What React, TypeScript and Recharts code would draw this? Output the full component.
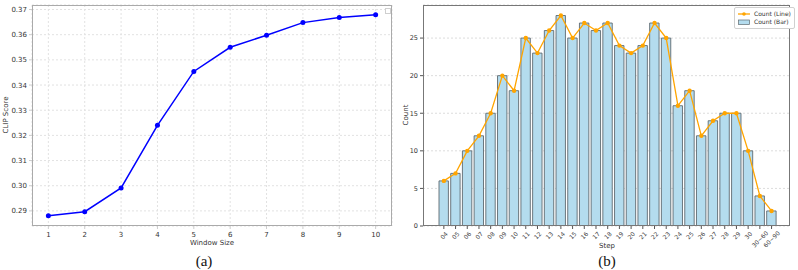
import React from "react";
import {
  LineChart,
  Line,
  XAxis,
  YAxis,
  CartesianGrid,
  ComposedChart,
  Bar,
} from "recharts";

// ---- Panel (a) data ----
const windowSizes = [1, 2, 3, 4, 5, 6, 7, 8, 9, 10];
const clipScores = [0.2881, 0.2897, 0.2991, 0.324, 0.3454, 0.355, 0.3598, 0.3648, 0.3668, 0.3679];
const clipTicks = [0.29, 0.3, 0.31, 0.32, 0.33, 0.34, 0.35, 0.36, 0.37];

// ---- Panel (b) data ----
const steps = [
  "04", "05", "06", "07", "08", "09", "10", "11", "12", "13", "14", "15", "16", "17",
  "18", "19", "20", "21", "22", "23", "24", "25", "26", "27", "28", "29", "30", "30~60", "60~90",
];
const counts = [6, 7, 10, 12, 15, 20, 18, 25, 23, 26, 28, 25, 27, 26, 27, 24, 23, 24, 27, 25, 16, 18, 12, 14, 15, 15, 10, 4, 2];
const countTicks = [0, 5, 10, 15, 20, 25];

const dataA = windowSizes.map((w, i) => ({ w, score: clipScores[i] }));
const dataB = steps.map((s, i) => ({ step: s, count: counts[i] }));

const SANS = "'DejaVu Sans', sans-serif";
const SERIF = "'Liberation Serif', 'Times New Roman', serif";

const StepTick = (props: any) => {
  const { x, y, payload } = props;
  const label = String(payload.value);
  const fs = 6;
  const w = label.length * fs * 0.6;
  const half = ((w + fs) * 0.707) / 2;
  const cy = y + half - 0.5;
  return (
    <text
      x={x}
      y={cy}
      transform={`rotate(-45, ${x}, ${cy})`}
      textAnchor="middle"
      dominantBaseline="central"
      fontSize={fs}
      fontFamily={SANS}
      fill="#444"
    >
      {label}
    </text>
  );
};

const LegendB = () => (
  <div
    style={{
      border: "1px solid #d0d0d0",
      borderRadius: 2,
      background: "white",
      padding: "2px 3px",
      fontFamily: SANS,
      fontSize: 6,
      color: "#333",
      lineHeight: "8px",
    }}
  >
    <div style={{ display: "flex", alignItems: "center" }}>
      <svg width={12} height={8}>
        <line x1={0} y1={4} x2={12} y2={4} stroke="#FFA500" strokeWidth={1.3} />
        <circle cx={6} cy={4} r={1.8} fill="#FFA500" />
      </svg>
      <span style={{ marginLeft: 4 }}>Count (Line)</span>
    </div>
    <div style={{ display: "flex", alignItems: "center" }}>
      <svg width={12} height={8}>
        <rect x={0.5} y={2} width={11} height={4.5} fill="#B4DCEE" stroke="#5f6a70" strokeWidth={0.7} />
      </svg>
      <span style={{ marginLeft: 4 }}>Count (Bar)</span>
    </div>
  </div>
);

const abs = (l: number, t: number): React.CSSProperties => ({ position: "absolute", left: l, top: t });

export default function App() {
  return (
    <div style={{ position: "absolute", left: 0, top: 0, width: 798, height: 270, background: "white", overflow: "hidden" }}>
      {/* Panel (a) */}
      <div style={abs(0, 0)}>
        <LineChart width={400} height={270} data={dataA} margin={{ top: 5, right: 8, bottom: 0, left: 2 }}>
          <CartesianGrid stroke="#e2e2e2" strokeDasharray="2 2" />
          <XAxis
            dataKey="w"
            type="number"
            domain={[0.55, 10.45]}
            ticks={windowSizes}
            height={44}
            axisLine={false}
            tickLine={{ stroke: "#cccccc" }}
            tickSize={3}
            tickMargin={3}
            tick={{ fontSize: 7, fontFamily: SANS, fill: "#333" }}
            allowDataOverflow
          />
          <YAxis
            type="number"
            domain={[0.284, 0.3718]}
            ticks={clipTicks}
            width={30}
            axisLine={false}
            tickLine={{ stroke: "#cccccc" }}
            tickSize={3}
            tickMargin={2}
            tickFormatter={(v: number) => v.toFixed(2)}
            tick={{ fontSize: 7, fontFamily: SANS, fill: "#333" }}
            allowDataOverflow
          />
          <Line
            type="linear"
            dataKey="score"
            stroke="#0000ff"
            strokeWidth={1.5}
            dot={{ r: 2.5, fill: "#0000ff", stroke: "#0000ff", strokeWidth: 0 }}
            isAnimationActive={false}
          />
        </LineChart>
        <div style={{ ...abs(32, 5), width: 360, height: 221, border: "1px solid #aaaaaa", boxSizing: "border-box", pointerEvents: "none" }} />
        <div style={{ ...abs(385, 8), width: 6, height: 6, border: "1px solid #cfcfcf", boxSizing: "border-box", background: "white" }} />
        <div style={{ ...abs(6, 115), fontFamily: SANS, fontSize: 7, color: "#333", transform: "translate(-50%, -50%) rotate(-90deg)", whiteSpace: "nowrap" }}>
          CLIP Score
        </div>
        <div style={{ ...abs(212, 243), fontFamily: SANS, fontSize: 7, color: "#333", transform: "translate(-50%, -50%)", whiteSpace: "nowrap" }}>
          Window Size
        </div>
        <div style={{ ...abs(204, 261), fontFamily: SERIF, fontSize: 15, color: "#111", transform: "translate(-50%, -50%)", whiteSpace: "nowrap" }}>
          (a)
        </div>
      </div>

      {/* Panel (b) */}
      <div style={abs(400, 0)}>
        <ComposedChart width={400} height={270} data={dataB} margin={{ top: 5, right: 10, bottom: 0, left: 0 }}>
          <CartesianGrid stroke="#dcdcdc" strokeDasharray="2 2" vertical={false} />
          <XAxis
            dataKey="step"
            type="category"
            interval={0}
            padding={{ left: 15, right: 12.6 }}
            height={44}
            axisLine={false}
            tickLine={{ stroke: "#555" }}
            tickSize={3}
            tickMargin={2}
            tick={<StepTick />}
          />
          <YAxis
            type="number"
            domain={[0, 29.4]}
            ticks={countTicks}
            width={23}
            axisLine={false}
            tickLine={{ stroke: "#555" }}
            tickSize={3}
            tickMargin={2}
            tick={{ fontSize: 6.5, fontFamily: SANS, fill: "#333" }}
            allowDataOverflow
          />
          <Bar dataKey="count" fill="#B4DCEE" stroke="#5f6a70" strokeWidth={0.9} barSize={9.4} isAnimationActive={false} />
          <Line
            type="linear"
            dataKey="count"
            stroke="#FFA500"
            strokeWidth={1.3}
            dot={{ r: 2.2, fill: "#FFA500", stroke: "#FFA500", strokeWidth: 0 }}
            isAnimationActive={false}
          />
        </ComposedChart>
        <div style={{ ...abs(23, 5), width: 367, height: 221, border: "1px solid #777777", boxSizing: "border-box", pointerEvents: "none" }} />
        <div style={{ ...abs(334, 7) }}>
          <LegendB />
        </div>
        <div style={{ ...abs(6, 115), fontFamily: SANS, fontSize: 7, color: "#333", transform: "translate(-50%, -50%) rotate(-90deg)", whiteSpace: "nowrap" }}>
          Count
        </div>
        <div style={{ ...abs(207, 246), fontFamily: SANS, fontSize: 7, color: "#333", transform: "translate(-50%, -50%)", whiteSpace: "nowrap" }}>
          Step
        </div>
        <div style={{ ...abs(207, 261), fontFamily: SERIF, fontSize: 15, color: "#111", transform: "translate(-50%, -50%)", whiteSpace: "nowrap" }}>
          (b)
        </div>
      </div>
    </div>
  );
}
